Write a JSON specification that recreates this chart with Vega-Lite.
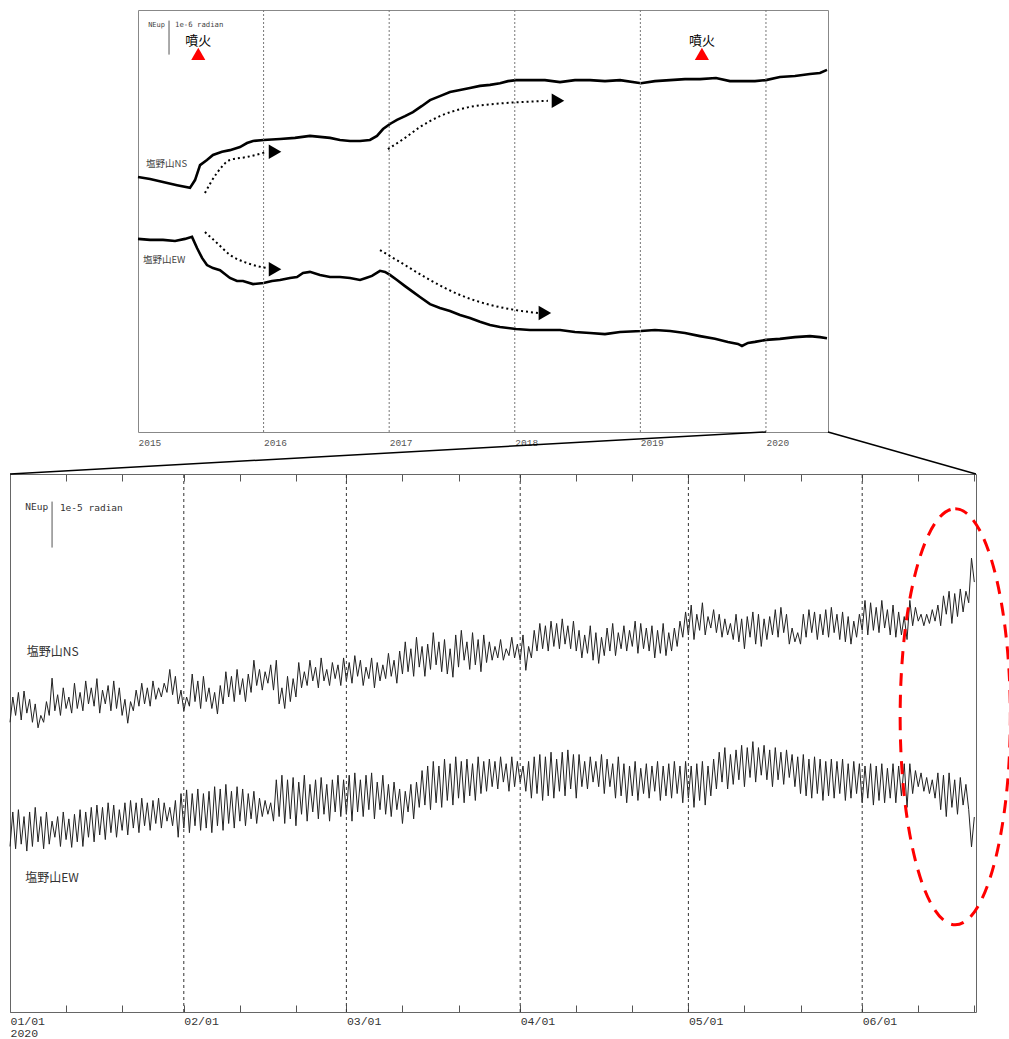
{
"$schema":"https://vega.github.io/schema/vega-lite/v6.json",
"width":1009,"height":1039,"padding":0,"autosize":{"type":"none"},
"background":"white",
"config":{"view":{"stroke":null}},
"datasets":{
"top":[
{"s":"NS","yr":2015.000,"v":7.50},{"s":"NS","yr":2015.096,"v":7.44},{"s":"NS","yr":2015.199,"v":7.35},{"s":"NS","yr":2015.311,"v":7.26},{"s":"NS","yr":2015.414,"v":7.18},{"s":"NS","yr":2015.454,"v":7.41},{"s":"NS","yr":2015.494,"v":7.85},{"s":"NS","yr":2015.549,"v":8.00},{"s":"NS","yr":2015.597,"v":8.15},{"s":"NS","yr":2015.669,"v":8.24},{"s":"NS","yr":2015.732,"v":8.29},{"s":"NS","yr":2015.812,"v":8.38},{"s":"NS","yr":2015.868,"v":8.50},{"s":"NS","yr":2015.916,"v":8.56},{"s":"NS","yr":2016.000,"v":8.59},{"s":"NS","yr":2016.131,"v":8.62},{"s":"NS","yr":2016.250,"v":8.65},{"s":"NS","yr":2016.369,"v":8.71},{"s":"NS","yr":2016.449,"v":8.68},{"s":"NS","yr":2016.529,"v":8.65},{"s":"NS","yr":2016.608,"v":8.59},{"s":"NS","yr":2016.688,"v":8.56},{"s":"NS","yr":2016.768,"v":8.56},{"s":"NS","yr":2016.847,"v":8.59},{"s":"NS","yr":2016.903,"v":8.71},{"s":"NS","yr":2016.951,"v":8.91},{"s":"NS","yr":2017.006,"v":9.06},{"s":"NS","yr":2017.062,"v":9.18},{"s":"NS","yr":2017.126,"v":9.29},{"s":"NS","yr":2017.189,"v":9.41},{"s":"NS","yr":2017.261,"v":9.59},{"s":"NS","yr":2017.325,"v":9.76},{"s":"NS","yr":2017.404,"v":9.88},{"s":"NS","yr":2017.484,"v":10.00},{"s":"NS","yr":2017.564,"v":10.06},{"s":"NS","yr":2017.643,"v":10.12},{"s":"NS","yr":2017.723,"v":10.18},{"s":"NS","yr":2017.803,"v":10.21},{"s":"NS","yr":2017.882,"v":10.26},{"s":"NS","yr":2017.946,"v":10.32},{"s":"NS","yr":2018.010,"v":10.35},{"s":"NS","yr":2018.121,"v":10.35},{"s":"NS","yr":2018.240,"v":10.35},{"s":"NS","yr":2018.360,"v":10.29},{"s":"NS","yr":2018.479,"v":10.35},{"s":"NS","yr":2018.599,"v":10.35},{"s":"NS","yr":2018.718,"v":10.32},{"s":"NS","yr":2018.838,"v":10.35},{"s":"NS","yr":2019.005,"v":10.26},{"s":"NS","yr":2019.116,"v":10.32},{"s":"NS","yr":2019.236,"v":10.35},{"s":"NS","yr":2019.355,"v":10.38},{"s":"NS","yr":2019.475,"v":10.38},{"s":"NS","yr":2019.602,"v":10.41},{"s":"NS","yr":2019.713,"v":10.32},{"s":"NS","yr":2019.833,"v":10.32},{"s":"NS","yr":2019.912,"v":10.32},{"s":"NS","yr":2020.000,"v":10.35},{"s":"NS","yr":2020.111,"v":10.44},{"s":"NS","yr":2020.231,"v":10.47},{"s":"NS","yr":2020.350,"v":10.53},{"s":"NS","yr":2020.430,"v":10.56},{"s":"NS","yr":2020.486,"v":10.65},
{"s":"EW","yr":2015.000,"v":5.68},{"s":"EW","yr":2015.096,"v":5.65},{"s":"EW","yr":2015.199,"v":5.65},{"s":"EW","yr":2015.295,"v":5.62},{"s":"EW","yr":2015.374,"v":5.68},{"s":"EW","yr":2015.430,"v":5.74},{"s":"EW","yr":2015.470,"v":5.41},{"s":"EW","yr":2015.510,"v":5.12},{"s":"EW","yr":2015.549,"v":4.91},{"s":"EW","yr":2015.597,"v":4.82},{"s":"EW","yr":2015.653,"v":4.76},{"s":"EW","yr":2015.732,"v":4.53},{"s":"EW","yr":2015.788,"v":4.44},{"s":"EW","yr":2015.836,"v":4.44},{"s":"EW","yr":2015.916,"v":4.35},{"s":"EW","yr":2016.000,"v":4.38},{"s":"EW","yr":2016.067,"v":4.44},{"s":"EW","yr":2016.131,"v":4.47},{"s":"EW","yr":2016.210,"v":4.53},{"s":"EW","yr":2016.266,"v":4.56},{"s":"EW","yr":2016.314,"v":4.68},{"s":"EW","yr":2016.369,"v":4.71},{"s":"EW","yr":2016.449,"v":4.62},{"s":"EW","yr":2016.529,"v":4.56},{"s":"EW","yr":2016.608,"v":4.56},{"s":"EW","yr":2016.688,"v":4.53},{"s":"EW","yr":2016.768,"v":4.47},{"s":"EW","yr":2016.815,"v":4.53},{"s":"EW","yr":2016.863,"v":4.59},{"s":"EW","yr":2016.927,"v":4.74},{"s":"EW","yr":2016.967,"v":4.71},{"s":"EW","yr":2017.006,"v":4.62},{"s":"EW","yr":2017.062,"v":4.47},{"s":"EW","yr":2017.126,"v":4.29},{"s":"EW","yr":2017.189,"v":4.12},{"s":"EW","yr":2017.245,"v":3.97},{"s":"EW","yr":2017.325,"v":3.76},{"s":"EW","yr":2017.404,"v":3.65},{"s":"EW","yr":2017.484,"v":3.56},{"s":"EW","yr":2017.564,"v":3.44},{"s":"EW","yr":2017.643,"v":3.35},{"s":"EW","yr":2017.723,"v":3.24},{"s":"EW","yr":2017.803,"v":3.15},{"s":"EW","yr":2017.882,"v":3.09},{"s":"EW","yr":2018.010,"v":3.03},{"s":"EW","yr":2018.121,"v":3.00},{"s":"EW","yr":2018.240,"v":3.00},{"s":"EW","yr":2018.360,"v":3.00},{"s":"EW","yr":2018.479,"v":2.94},{"s":"EW","yr":2018.599,"v":2.91},{"s":"EW","yr":2018.718,"v":2.88},{"s":"EW","yr":2018.838,"v":2.94},{"s":"EW","yr":2019.005,"v":2.97},{"s":"EW","yr":2019.116,"v":3.00},{"s":"EW","yr":2019.236,"v":2.97},{"s":"EW","yr":2019.355,"v":2.91},{"s":"EW","yr":2019.475,"v":2.82},{"s":"EW","yr":2019.594,"v":2.74},{"s":"EW","yr":2019.697,"v":2.65},{"s":"EW","yr":2019.777,"v":2.59},{"s":"EW","yr":2019.809,"v":2.53},{"s":"EW","yr":2019.857,"v":2.62},{"s":"EW","yr":2019.912,"v":2.65},{"s":"EW","yr":2020.000,"v":2.71},{"s":"EW","yr":2020.111,"v":2.74},{"s":"EW","yr":2020.231,"v":2.79},{"s":"EW","yr":2020.350,"v":2.82},{"s":"EW","yr":2020.430,"v":2.79},{"s":"EW","yr":2020.486,"v":2.76}
],
"arrows":[
{"a":1,"yr":2015.533,"v":7.03},{"a":1,"yr":2015.629,"v":7.62},{"a":1,"yr":2015.732,"v":8.00},{"a":1,"yr":2015.868,"v":8.09},{"a":1,"yr":2016.027,"v":8.24},
{"a":2,"yr":2016.990,"v":8.32},{"a":2,"yr":2017.126,"v":8.65},{"a":2,"yr":2017.245,"v":8.97},{"a":2,"yr":2017.404,"v":9.29},{"a":2,"yr":2017.603,"v":9.53},{"a":2,"yr":2017.842,"v":9.65},{"a":2,"yr":2018.081,"v":9.71},{"a":2,"yr":2018.264,"v":9.74},
{"a":3,"yr":2015.533,"v":5.88},{"a":3,"yr":2015.629,"v":5.56},{"a":3,"yr":2015.732,"v":5.21},{"a":3,"yr":2015.868,"v":4.97},{"a":3,"yr":2016.027,"v":4.82},
{"a":4,"yr":2016.927,"v":5.35},{"a":4,"yr":2017.086,"v":5.00},{"a":4,"yr":2017.325,"v":4.47},{"a":4,"yr":2017.564,"v":4.03},{"a":4,"yr":2017.803,"v":3.74},{"a":4,"yr":2018.002,"v":3.59},{"a":4,"yr":2018.185,"v":3.50}
],
"heads":[{"yr":2016.091,"v":8.24},{"yr":2018.344,"v":9.74},{"yr":2016.091,"v":4.79},{"yr":2018.240,"v":3.50}],
"bot":[
{"d":0,"n":63.0,"e":36.0},{"d":0.5,"n":68.5,"e":43.5},{"d":1,"n":64.5,"e":35.5},{"d":1.5,"n":69.5,"e":44.0},{"d":2,"n":63.5,"e":36.5},{"d":2.5,"n":69.8,"e":42.5},{"d":3,"n":65.0,"e":35.0},{"d":3.5,"n":68.0,"e":43.5},{"d":4,"n":63.0,"e":36.0},{"d":4.5,"n":67.0,"e":44.5},
{"d":5,"n":61.8,"e":37.0},{"d":5.5,"n":64.5,"e":42.5},{"d":6,"n":63.0,"e":35.5},{"d":6.5,"n":67.5,"e":43.5},{"d":7,"n":64.5,"e":36.5},{"d":7.5,"n":72.6,"e":41.5},{"d":8,"n":65.5,"e":38.0},{"d":8.5,"n":69.0,"e":42.5},{"d":9,"n":64.5,"e":36.0},{"d":9.5,"n":70.5,"e":43.5},
{"d":10,"n":66.0,"e":37.5},{"d":10.5,"n":68.5,"e":42.0},{"d":11,"n":65.0,"e":35.8},{"d":11.5,"n":71.5,"e":43.0},{"d":12,"n":66.0,"e":37.0},{"d":12.5,"n":69.5,"e":44.0},{"d":13,"n":65.5,"e":36.0},{"d":13.5,"n":72.0,"e":43.5},{"d":14,"n":67.0,"e":38.0},{"d":14.5,"n":70.5,"e":44.5},
{"d":15,"n":66.5,"e":37.0},{"d":15.5,"n":72.5,"e":45.0},{"d":16,"n":65.0,"e":38.5},{"d":16.5,"n":70.0,"e":44.5},{"d":17,"n":67.0,"e":37.5},{"d":17.5,"n":71.0,"e":45.5},{"d":18,"n":65.5,"e":39.0},{"d":18.5,"n":72.0,"e":45.0},{"d":19,"n":66.0,"e":38.0},{"d":19.5,"n":70.5,"e":44.0},
{"d":20,"n":64.5,"e":39.5},{"d":20.5,"n":68.0,"e":45.5},{"d":21,"n":62.8,"e":38.5},{"d":21.5,"n":67.5,"e":46.0},{"d":22,"n":65.5,"e":40.0},{"d":22.5,"n":70.0,"e":45.5},{"d":23,"n":66.5,"e":39.0},{"d":23.5,"n":71.5,"e":46.5},{"d":24,"n":67.0,"e":40.5},{"d":24.5,"n":70.5,"e":45.5},
{"d":25,"n":66.5,"e":39.5},{"d":25.5,"n":72.0,"e":46.0},{"d":26,"n":68.0,"e":41.0},{"d":26.5,"n":70.5,"e":46.5},{"d":27,"n":68.5,"e":40.0},{"d":27.5,"n":71.5,"e":45.5},{"d":28,"n":69.5,"e":41.5},{"d":28.5,"n":74.5,"e":44.5},{"d":29,"n":69.0,"e":40.5},{"d":29.5,"n":73.0,"e":46.0},
{"d":30,"n":67.0,"e":38.0},{"d":30.5,"n":70.0,"e":47.5},{"d":31,"n":65.5,"e":40.0},{"d":31.5,"n":68.5,"e":48.3},{"d":32,"n":66.5,"e":39.0},{"d":32.5,"n":73.5,"e":47.5},{"d":33,"n":67.5,"e":40.5},{"d":33.5,"n":72.0,"e":48.5},{"d":34,"n":66.0,"e":39.5},{"d":34.5,"n":73.0,"e":47.5},
{"d":35,"n":67.5,"e":40.0},{"d":35.5,"n":70.5,"e":48.0},{"d":36,"n":66.0,"e":39.0},{"d":36.5,"n":69.5,"e":49.0},{"d":37,"n":64.8,"e":40.5},{"d":37.5,"n":71.0,"e":48.5},{"d":38,"n":67.0,"e":39.5},{"d":38.5,"n":74.0,"e":49.5},{"d":39,"n":68.5,"e":41.0},{"d":39.5,"n":73.0,"e":48.0},
{"d":40,"n":67.5,"e":40.0},{"d":40.5,"n":74.5,"e":49.0},{"d":41,"n":69.0,"e":41.5},{"d":41.5,"n":72.5,"e":48.5},{"d":42,"n":67.5,"e":40.5},{"d":42.5,"n":73.5,"e":47.5},{"d":43,"n":69.5,"e":42.0},{"d":43.5,"n":76.5,"e":48.0},{"d":44,"n":71.0,"e":41.0},{"d":44.5,"n":74.5,"e":46.5},
{"d":45,"n":70.0,"e":42.5},{"d":45.5,"n":74.0,"e":46.0},{"d":46,"n":71.5,"e":43.0},{"d":46.5,"n":75.5,"e":45.5},{"d":47,"n":70.0,"e":41.5},{"d":47.5,"n":76.5,"e":50.5},{"d":48,"n":67.0,"e":42.5},{"d":48.5,"n":70.5,"e":51.5},{"d":49,"n":66.0,"e":41.0},{"d":49.5,"n":73.0,"e":50.5},
{"d":50,"n":67.5,"e":42.0},{"d":50.5,"n":72.5,"e":51.0},{"d":51,"n":68.5,"e":40.5},{"d":51.5,"n":76.0,"e":50.0},{"d":52,"n":70.5,"e":43.0},{"d":52.5,"n":74.0,"e":51.5},{"d":53,"n":71.0,"e":41.5},{"d":53.5,"n":76.5,"e":49.5},{"d":54,"n":72.0,"e":43.5},{"d":54.5,"n":75.0,"e":50.5},
{"d":55,"n":70.5,"e":42.0},{"d":55.5,"n":77.0,"e":51.0},{"d":56,"n":72.0,"e":43.0},{"d":56.5,"n":74.5,"e":49.5},{"d":57,"n":71.0,"e":41.5},{"d":57.5,"n":76.0,"e":50.5},{"d":58,"n":72.5,"e":43.5},{"d":58.5,"n":75.5,"e":51.5},{"d":59,"n":71.0,"e":42.5},{"d":59.5,"n":77.0,"e":50.5},
{"d":60,"n":72.0,"e":43.0},{"d":60.5,"n":76.0,"e":51.5},{"d":61,"n":71.5,"e":41.5},{"d":61.5,"n":77.5,"e":52.0},{"d":62,"n":73.0,"e":43.5},{"d":62.5,"n":76.5,"e":50.5},{"d":63,"n":71.0,"e":42.5},{"d":63.5,"n":75.0,"e":51.5},{"d":64,"n":72.5,"e":44.0},{"d":64.5,"n":77.0,"e":52.0},
{"d":65,"n":70.5,"e":42.0},{"d":65.5,"n":76.0,"e":50.0},{"d":66,"n":72.0,"e":44.0},{"d":66.5,"n":75.5,"e":51.5},{"d":67,"n":72.5,"e":43.0},{"d":67.5,"n":78.0,"e":49.5},{"d":68,"n":73.0,"e":42.5},{"d":68.5,"n":76.5,"e":50.0},{"d":69,"n":71.5,"e":44.0},{"d":69.5,"n":78.5,"e":48.5},
{"d":70,"n":73.5,"e":41.0},{"d":70.5,"n":80.5,"e":48.0},{"d":71,"n":74.0,"e":43.5},{"d":71.5,"n":79.0,"e":49.5},{"d":72,"n":73.0,"e":42.0},{"d":72.5,"n":81.5,"e":50.0},{"d":73,"n":75.0,"e":44.5},{"d":73.5,"n":79.5,"e":52.5},{"d":74,"n":73.0,"e":45.0},{"d":74.5,"n":80.0,"e":53.5},
{"d":75,"n":74.5,"e":44.0},{"d":75.5,"n":82.5,"e":54.5},{"d":76,"n":75.5,"e":45.5},{"d":76.5,"n":80.5,"e":53.5},{"d":77,"n":74.0,"e":44.5},{"d":77.5,"n":81.0,"e":55.0},{"d":78,"n":73.5,"e":46.0},{"d":78.5,"n":79.0,"e":54.0},{"d":79,"n":72.8,"e":45.0},{"d":79.5,"n":82.0,"e":55.5},
{"d":80,"n":75.0,"e":46.5},{"d":80.5,"n":83.0,"e":54.5},{"d":81,"n":76.5,"e":45.5},{"d":81.5,"n":80.5,"e":55.0},{"d":82,"n":74.5,"e":47.0},{"d":82.5,"n":82.5,"e":54.0},{"d":83,"n":75.5,"e":46.0},{"d":83.5,"n":81.0,"e":55.5},{"d":84,"n":74.0,"e":47.5},{"d":84.5,"n":82.0,"e":54.5},
{"d":85,"n":76.0,"e":48.0},{"d":85.5,"n":80.5,"e":55.0},{"d":86,"n":76.5,"e":49.0},{"d":86.5,"n":79.5,"e":54.5},{"d":87,"n":77.0,"e":48.5},{"d":87.5,"n":81.0,"e":55.5},{"d":88,"n":76.5,"e":50.0},{"d":88.5,"n":79.0,"e":54.0},{"d":89,"n":77.5,"e":48.0},{"d":89.5,"n":81.5,"e":55.5},
{"d":90,"n":77.0,"e":49.0},{"d":90.5,"n":80.0,"e":54.5},{"d":91,"n":76.5,"e":50.0},{"d":91.5,"n":82.0,"e":53.5},{"d":92,"n":74.3,"e":48.0},{"d":92.5,"n":79.5,"e":54.5},{"d":93,"n":77.0,"e":46.5},{"d":93.5,"n":83.0,"e":55.5},{"d":94,"n":78.5,"e":47.5},{"d":94.5,"n":84.5,"e":56.0},
{"d":95,"n":79.0,"e":46.0},{"d":95.5,"n":84.0,"e":55.5},{"d":96,"n":78.5,"e":47.0},{"d":96.5,"n":85.0,"e":56.5},{"d":97,"n":79.5,"e":46.5},{"d":97.5,"n":84.5,"e":55.0},{"d":98,"n":79.0,"e":48.0},{"d":98.5,"n":85.5,"e":56.5},{"d":99,"n":80.0,"e":47.0},{"d":99.5,"n":84.0,"e":57.0},
{"d":100,"n":79.0,"e":48.5},{"d":100.5,"n":85.0,"e":56.0},{"d":101,"n":78.5,"e":46.5},{"d":101.5,"n":83.0,"e":56.0},{"d":102,"n":77.0,"e":49.0},{"d":102.5,"n":82.0,"e":54.5},{"d":103,"n":78.0,"e":48.5},{"d":103.5,"n":84.0,"e":55.5},{"d":104,"n":76.5,"e":50.0},{"d":104.5,"n":82.5,"e":54.5},
{"d":105,"n":75.8,"e":49.0},{"d":105.5,"n":81.5,"e":56.0},{"d":106,"n":77.5,"e":47.5},{"d":106.5,"n":83.5,"e":55.0},{"d":107,"n":78.5,"e":49.0},{"d":107.5,"n":84.5,"e":54.0},{"d":108,"n":77.5,"e":46.5},{"d":108.5,"n":82.5,"e":55.5},{"d":109,"n":79.0,"e":47.0},{"d":109.5,"n":84.0,"e":54.0},
{"d":110,"n":78.5,"e":45.5},{"d":110.5,"n":83.0,"e":53.5},{"d":111,"n":79.5,"e":47.0},{"d":111.5,"n":85.0,"e":54.5},{"d":112,"n":78.0,"e":46.0},{"d":112.5,"n":84.5,"e":53.0},{"d":113,"n":79.0,"e":47.5},{"d":113.5,"n":83.5,"e":54.0},{"d":114,"n":78.5,"e":46.5},{"d":114.5,"n":84.0,"e":53.5},
{"d":115,"n":77.0,"e":48.0},{"d":115.5,"n":83.0,"e":54.5},{"d":116,"n":78.0,"e":46.0},{"d":116.5,"n":84.5,"e":53.5},{"d":117,"n":77.5,"e":47.0},{"d":117.5,"n":82.5,"e":54.0},{"d":118,"n":78.5,"e":46.5},{"d":118.5,"n":83.5,"e":54.5},{"d":119,"n":79.5,"e":47.5},{"d":119.5,"n":85.0,"e":53.5},
{"d":120,"n":81.5,"e":45.5},{"d":120.5,"n":87.0,"e":54.5},{"d":121,"n":82.0,"e":46.5},{"d":121.5,"n":88.5,"e":53.5},{"d":122,"n":81.0,"e":44.5},{"d":122.5,"n":86.5,"e":54.0},{"d":123,"n":83.0,"e":46.0},{"d":123.5,"n":89.0,"e":54.5},{"d":124,"n":82.0,"e":45.0},{"d":124.5,"n":86.0,"e":53.5},
{"d":125,"n":83.5,"e":47.0},{"d":125.5,"n":87.5,"e":55.0},{"d":126,"n":82.5,"e":48.5},{"d":126.5,"n":86.5,"e":56.5},{"d":127,"n":81.5,"e":50.0},{"d":127.5,"n":85.5,"e":57.5},{"d":128,"n":82.0,"e":48.5},{"d":128.5,"n":84.5,"e":56.0},{"d":129,"n":81.0,"e":49.5},{"d":129.5,"n":86.5,"e":57.0},
{"d":130,"n":80.5,"e":50.5},{"d":130.5,"n":85.5,"e":58.0},{"d":131,"n":79.0,"e":49.0},{"d":131.5,"n":86.0,"e":57.5},{"d":132,"n":81.5,"e":51.0},{"d":132.5,"n":87.0,"e":58.8},{"d":133,"n":80.0,"e":50.0},{"d":133.5,"n":86.5,"e":57.5},{"d":134,"n":79.5,"e":51.5},{"d":134.5,"n":85.5,"e":58.0},
{"d":135,"n":81.0,"e":50.5},{"d":135.5,"n":86.0,"e":57.0},{"d":136,"n":82.0,"e":49.0},{"d":136.5,"n":87.5,"e":57.5},{"d":137,"n":81.5,"e":50.5},{"d":137.5,"n":88.0,"e":56.5},{"d":138,"n":82.5,"e":49.5},{"d":138.5,"n":86.5,"e":57.0},{"d":139,"n":80.0,"e":51.0},{"d":139.5,"n":83.5,"e":56.0},
{"d":140,"n":80.5,"e":49.0},{"d":140.5,"n":82.5,"e":55.5},{"d":141,"n":80.0,"e":47.5},{"d":141.5,"n":86.5,"e":56.0},{"d":142,"n":81.5,"e":47.0},{"d":142.5,"n":87.5,"e":55.0},{"d":143,"n":82.5,"e":46.5},{"d":143.5,"n":87.0,"e":55.5},{"d":144,"n":81.0,"e":47.5},{"d":144.5,"n":86.5,"e":55.0},
{"d":145,"n":82.0,"e":46.0},{"d":145.5,"n":87.5,"e":54.5},{"d":146,"n":81.5,"e":47.0},{"d":146.5,"n":88.0,"e":55.0},{"d":147,"n":82.5,"e":46.5},{"d":147.5,"n":86.5,"e":54.5},{"d":148,"n":81.0,"e":47.5},{"d":148.5,"n":87.0,"e":55.0},{"d":149,"n":80.5,"e":46.0},{"d":149.5,"n":86.0,"e":54.0},
{"d":150,"n":80.0,"e":46.5},{"d":150.5,"n":85.0,"e":54.5},{"d":151,"n":81.5,"e":47.5},{"d":151.5,"n":86.5,"e":54.0},{"d":152,"n":83.0,"e":45.5},{"d":152.5,"n":89.5,"e":53.5},{"d":153,"n":82.0,"e":46.5},{"d":153.5,"n":89.0,"e":54.0},{"d":154,"n":83.0,"e":45.0},{"d":154.5,"n":88.0,"e":53.5},
{"d":155,"n":82.5,"e":46.0},{"d":155.5,"n":89.5,"e":54.0},{"d":156,"n":83.5,"e":45.5},{"d":156.5,"n":87.5,"e":53.0},{"d":157,"n":82.0,"e":46.5},{"d":157.5,"n":88.5,"e":54.0},{"d":158,"n":81.5,"e":45.5},{"d":158.5,"n":87.0,"e":53.5},{"d":159,"n":82.0,"e":47.0},{"d":159.5,"n":86.0,"e":54.0},
{"d":160,"n":81.0,"e":44.5},{"d":160.5,"n":89.5,"e":54.0},{"d":161,"n":84.0,"e":47.5},{"d":161.5,"n":88.0,"e":52.5},{"d":162,"n":85.0,"e":49.0},{"d":162.5,"n":86.5,"e":52.0},{"d":163,"n":84.0,"e":48.0},{"d":163.5,"n":86.5,"e":51.0},{"d":164,"n":84.5,"e":47.5},{"d":164.5,"n":87.5,"e":50.5},
{"d":165,"n":85.0,"e":46.5},{"d":165.5,"n":88.5,"e":52.0},{"d":166,"n":84.0,"e":44.0},{"d":166.5,"n":90.5,"e":51.5},{"d":167,"n":86.5,"e":42.5},{"d":167.5,"n":91.5,"e":52.0},{"d":168,"n":84.5,"e":44.5},{"d":168.5,"n":91.0,"e":50.5},{"d":169,"n":86.0,"e":43.0},{"d":169.5,"n":92.0,"e":51.0},
{"d":170,"n":87.0,"e":45.0},{"d":170.5,"n":91.5,"e":49.5},{"d":171,"n":89.0,"e":44.0},{"d":171.5,"n":98.7,"e":35.9},{"d":172,"n":93.5,"e":42.4}
]
},
"layer":[
{
"layer":[
{"data":{"name":"top"},"mark":{"type":"line","color":"#000","strokeWidth":2.6},
 "encoding":{
  "x":{"field":"yr","type":"quantitative","scale":{"domain":[2015,2020.494],"range":[138,828],"nice":false,"zero":false},
   "axis":{"orient":"bottom","offset":-607,"values":[2015,2016,2017,2018,2019,2020],"format":"d","labelAlign":"left","labelBaseline":"top","labelPadding":5,"ticks":false,"domainColor":"#888","labelFont":"Liberation Mono","labelFontSize":9.5,"labelColor":"#555","title":null,"grid":false,"labelFlush":false,"labelOverlap":false}},
  "y":{"field":"v","type":"quantitative","scale":{"domain":[0,12.412],"range":[432,10],"nice":false,"zero":false},
   "axis":{"orient":"left","offset":-138,"labels":false,"ticks":false,"domainColor":"#888","title":null,"grid":false}},
  "detail":{"field":"s"}}},
{"data":{"values":[{"yr":2016},{"yr":2017},{"yr":2018},{"yr":2019},{"yr":2020}]},"mark":{"type":"rule","color":"#777","strokeDash":[2,2],"strokeWidth":1},
 "encoding":{"x":{"field":"yr","type":"quantitative","axis":null},"y":{"datum":0,"axis":null},"y2":{"datum":12.412}}},
{"data":{"name":"arrows"},"mark":{"type":"line","color":"#000","strokeWidth":2,"strokeDash":[2,3],"interpolate":"monotone"},
 "encoding":{
  "x":{"field":"yr","type":"quantitative","axis":{"orient":"top","offset":-10,"labels":false,"ticks":false,"domainColor":"#888","title":null,"grid":false}},
  "y":{"field":"v","type":"quantitative","axis":{"orient":"right","offset":-181,"labels":false,"ticks":false,"domainColor":"#888","title":null,"grid":false}},
  "detail":{"field":"a"}}},
{"data":{"name":"heads"},"mark":{"type":"point","shape":"triangle-right","filled":true,"color":"#000","size":210,"opacity":1},
 "encoding":{"x":{"field":"yr","type":"quantitative","axis":null},"y":{"field":"v","type":"quantitative","axis":null}}},
{"data":{"values":[{"yr":2015.48,"label":"噴火"},{"yr":2019.49,"label":"噴火"}]},"layer":[
 {"mark":{"type":"point","shape":"triangle-up","filled":true,"color":"#ff0000","size":200,"opacity":1},
  "encoding":{"x":{"field":"yr","type":"quantitative","axis":null},"y":{"datum":11.12,"axis":null}}},
 {"mark":{"type":"text","font":"Noto Sans CJK JP","fontSize":13,"color":"#000","align":"center","baseline":"middle"},
  "encoding":{"x":{"field":"yr","type":"quantitative","axis":null},"y":{"datum":11.5,"axis":null},"text":{"field":"label"}}}
]},
{"data":{"values":[{"yr":2015.064,"v":7.88,"label":"塩野山NS"},{"yr":2015.04,"v":5.06,"label":"塩野山EW"}]},
 "mark":{"type":"text","font":"Noto Sans CJK JP","fontSize":9.5,"color":"#444","align":"left","baseline":"middle"},
 "encoding":{"x":{"field":"yr","type":"quantitative","axis":null},"y":{"field":"v","type":"quantitative","axis":null},"text":{"field":"label"}}},
{"data":{"values":[{"yr":2015.215,"v":11.97,"label":"NEup","al":"r"},{"yr":2015.295,"v":11.97,"label":"1e-6 radian","al":"l"}]},
 "layer":[
 {"transform":[{"filter":"datum.al=='r'"}],"mark":{"type":"text","font":"DejaVu Sans Mono","fontSize":7,"color":"#444","align":"right","baseline":"middle"},
  "encoding":{"x":{"field":"yr","type":"quantitative","axis":null},"y":{"field":"v","type":"quantitative","axis":null},"text":{"field":"label"}}},
 {"transform":[{"filter":"datum.al=='l'"}],"mark":{"type":"text","font":"DejaVu Sans Mono","fontSize":7.3,"color":"#444","align":"left","baseline":"middle"},
  "encoding":{"x":{"field":"yr","type":"quantitative","axis":null},"y":{"field":"v","type":"quantitative","axis":null},"text":{"field":"label"}}}
 ]},
{"data":{"values":[{"yr":2015.247,"v":11.1,"v2":12.1}]},"mark":{"type":"rule","color":"#555","strokeWidth":1},
 "encoding":{"x":{"field":"yr","type":"quantitative","axis":null},"y":{"field":"v","type":"quantitative","axis":null},"y2":{"field":"v2"}}},
{"data":{"values":[{"yr":2020.0,"v":0,"yr2":2013.981,"v2":-1.235},{"yr":2020.494,"v":0,"yr2":2021.672,"v2":-1.235}]},"mark":{"type":"rule","color":"#000","strokeWidth":1.5},
 "encoding":{"x":{"field":"yr","type":"quantitative","axis":null},"x2":{"field":"yr2"},"y":{"field":"v","type":"quantitative","axis":null},"y2":{"field":"v2"}}}
],
"resolve":{"axis":{"x":"independent","y":"independent"}}
},
{
"layer":[
{"data":{"name":"bot"},"transform":[{"fold":["n","e"],"as":["comp","val"]}],"mark":{"type":"line","color":"#222","strokeWidth":1},
 "encoding":{
  "x":{"field":"d","type":"quantitative","scale":{"domain":[0,172.3],"range":[10,976],"nice":false,"zero":false},
   "axis":{"orient":"bottom","offset":-27,"values":[0,10,20,31,41,51,60,70,80,91,101,111,121,131,141,152,162,172],
    "labelExpr":"datum.value==0 ? ['01/01','2020'] : (indexof([31,60,91,121,152], datum.value) >= 0 ? timeFormat(datetime(2020,0,1+datum.value),'%m/%d') : '')",
    "tickSize":-7,"tickColor":"#555","domainColor":"#666","labelAlign":"left","labelBaseline":"top","labelPadding":10,"labelFont":"Liberation Mono","labelFontSize":11.5,"labelColor":"#333","labelLineHeight":12,"labelOverlap":false,"labelFlush":false,"title":null,"grid":false}},
  "y":{"field":"val","type":"quantitative","scale":{"domain":[0,117],"range":[1012,474],"nice":false,"zero":false},
   "axis":{"orient":"left","offset":-10,"labels":false,"ticks":false,"domainColor":"#666","title":null,"grid":false}},
  "detail":{"field":"comp"}}},
{"data":{"values":[{"d":31},{"d":60},{"d":91},{"d":121},{"d":152}]},"mark":{"type":"rule","color":"#333","strokeDash":[3,3],"strokeWidth":1},
 "encoding":{"x":{"field":"d","type":"quantitative","axis":null},"y":{"datum":0,"axis":null},"y2":{"datum":117}}},
{"data":{"values":[{"d":3.0,"v":78.3,"label":"塩野山NS"},{"d":2.7,"v":29.1,"label":"塩野山EW"}]},
 "mark":{"type":"text","font":"Noto Sans CJK JP","fontSize":12,"color":"#333","align":"left","baseline":"middle"},
 "encoding":{
  "x":{"field":"d","type":"quantitative","axis":{"orient":"top","offset":-474,"values":[0,10,20,31,41,51,60,70,80,91,101,111,121,131,141,152,162,172],"labels":false,"tickSize":-7,"tickColor":"#555","domainColor":"#666","title":null,"grid":false}},
  "y":{"field":"v","type":"quantitative","axis":{"orient":"right","offset":-33,"labels":false,"ticks":false,"domainColor":"#666","title":null,"grid":false}},
  "text":{"field":"label"}}},
{"data":{"values":[{"d":6.8,"v":109.8,"label":"NEup"}]},"mark":{"type":"text","font":"DejaVu Sans Mono","fontSize":9.5,"color":"#333","align":"right","baseline":"middle"},
 "encoding":{"x":{"field":"d","type":"quantitative","axis":null},"y":{"field":"v","type":"quantitative","axis":null},"text":{"field":"label"}}},
{"data":{"values":[{"d":8.9,"v":109.5,"label":"1e-5 radian"}]},"mark":{"type":"text","font":"DejaVu Sans Mono","fontSize":9.5,"color":"#333","align":"left","baseline":"middle"},
 "encoding":{"x":{"field":"d","type":"quantitative","axis":null},"y":{"field":"v","type":"quantitative","axis":null},"text":{"field":"label"}}},
{"data":{"values":[{"d":7.5,"v":101,"v2":111}]},"mark":{"type":"rule","color":"#555","strokeWidth":1},
 "encoding":{"x":{"field":"d","type":"quantitative","axis":null},"y":{"field":"v","type":"quantitative","axis":null},"y2":{"field":"v2"}}},
{"data":{"values":[{"d":168.6,"v":64.2}]},"mark":{"type":"point","shape":"M0,-1A0.265,1,0,1,1,0,1A0.265,1,0,1,1,0,-1Z","size":173056,"filled":false,"stroke":"#ff0000","strokeWidth":3,"strokeDash":[13,9],"opacity":1},
 "encoding":{"x":{"field":"d","type":"quantitative","axis":null},"y":{"field":"v","type":"quantitative","axis":null}}}
],
"resolve":{"axis":{"x":"independent","y":"independent"}}
}
],
"resolve":{"scale":{"x":"independent","y":"independent"}}
}
